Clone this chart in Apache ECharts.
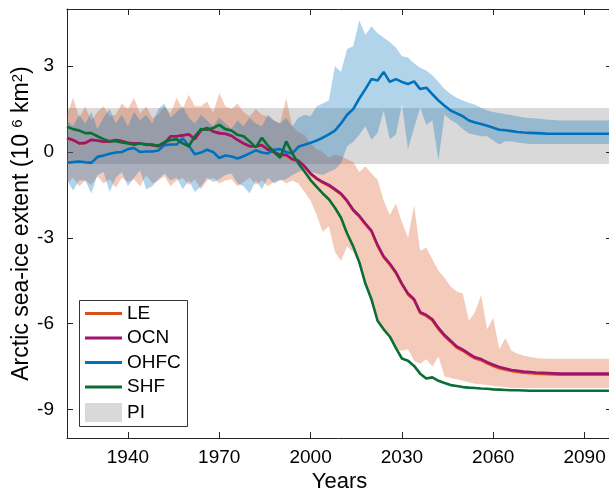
<!DOCTYPE html>
<html><head><meta charset="utf-8">
<script src="https://cdn.jsdelivr.net/npm/echarts@6/dist/echarts.min.js"></script>
<style>html,body{margin:0;padding:0;background:#fff}#c{width:609px;height:494px}</style>
</head><body><div id="c"></div>
<script>
const years = [1920,1922,1924,1926,1928,1930,1932,1934,1936,1938,
1940,1942,1944,1946,1948,1950,1952,1954,1956,1958,
1960,1962,1964,1966,1968,1970,1972,1974,1976,1978,
1980,1982,1984,1986,1988,1990,1992,1994,1996,1998,
2000,2002,2004,2006,2008,2010,2012,2014,2016,2018,
2020,2022,2024,2026,2028,2030,2032,2034,2036,2038,
2040,2042,2044,2046,2048,2050,2052,2054,2056,2058,
2060,2062,2064,2066,2068,2070,2072,2074,2076,2078,
2080,2082,2084,2086,2088,2090,2092,2094,2096,2098];

const leMean = [0.48,0.41,0.31,0.31,0.42,0.4,0.37,0.36,0.41,0.38,
0.32,0.3,0.29,0.27,0.24,0.2,0.3,0.54,0.55,0.58,
0.61,0.45,0.75,0.83,0.72,0.66,0.63,0.57,0.42,0.3,
0.2,0.19,0.23,0.08,0.0,-0.1,-0.11,-0.26,-0.31,-0.51,
-0.77,-0.94,-1.07,-1.18,-1.33,-1.48,-1.73,-2.05,-2.26,-2.53,
-2.78,-3.28,-3.68,-3.93,-4.23,-4.63,-4.98,-5.18,-5.63,-5.73,
-5.89,-6.19,-6.44,-6.64,-6.84,-6.95,-7.09,-7.22,-7.28,-7.39,
-7.48,-7.56,-7.61,-7.66,-7.69,-7.72,-7.73,-7.75,-7.76,-7.77,
-7.78,-7.79,-7.79,-7.79,-7.79,-7.79,-7.79,-7.79,-7.79,-7.79];

const ocn = [0.49,0.42,0.3,0.32,0.43,0.4,0.36,0.37,0.42,0.38,
0.32,0.3,0.3,0.27,0.24,0.2,0.3,0.55,0.55,0.58,
0.62,0.45,0.76,0.84,0.72,0.66,0.64,0.57,0.42,0.3,
0.2,0.2,0.24,0.08,0.0,-0.1,-0.1,-0.25,-0.3,-0.5,
-0.75,-0.92,-1.05,-1.15,-1.3,-1.45,-1.7,-2.02,-2.23,-2.5,
-2.75,-3.25,-3.65,-3.9,-4.2,-4.6,-4.95,-5.15,-5.6,-5.7,
-5.85,-6.15,-6.4,-6.6,-6.8,-6.91,-7.05,-7.18,-7.24,-7.35,
-7.44,-7.52,-7.57,-7.62,-7.65,-7.68,-7.69,-7.71,-7.72,-7.73,
-7.74,-7.75,-7.75,-7.75,-7.75,-7.75,-7.75,-7.75,-7.75,-7.75];

const ohfc = [-0.38,-0.35,-0.33,-0.36,-0.38,-0.17,-0.12,-0.06,-0.02,0.0,
0.1,0.14,0.0,0.02,0.02,0.05,0.24,0.26,0.26,0.48,
0.22,-0.08,-0.02,0.08,0.0,-0.21,-0.12,-0.16,-0.23,-0.15,
-0.05,0.06,-0.02,-0.05,0.08,0.1,0.0,-0.05,0.18,0.25,
0.32,0.4,0.5,0.62,0.75,1.0,1.3,1.5,1.87,2.2,
2.55,2.5,2.8,2.45,2.55,2.45,2.38,2.47,2.2,2.25,
2.02,1.8,1.62,1.45,1.35,1.25,1.1,1.03,0.98,0.92,
0.85,0.78,0.76,0.73,0.7,0.68,0.67,0.66,0.65,0.64,
0.64,0.64,0.64,0.64,0.64,0.64,0.64,0.64,0.64,0.64];

const shf = [0.88,0.8,0.75,0.66,0.66,0.55,0.45,0.38,0.38,0.33,
0.3,0.25,0.3,0.25,0.26,0.22,0.35,0.42,0.45,0.3,
0.2,0.55,0.8,0.78,0.84,0.95,0.8,0.75,0.6,0.55,
0.37,0.16,0.5,0.22,0.0,-0.2,0.37,-0.05,-0.4,-0.68,
-0.98,-1.22,-1.45,-1.65,-1.95,-2.3,-2.85,-3.3,-3.85,-4.6,
-5.15,-5.9,-6.2,-6.45,-6.85,-7.22,-7.3,-7.48,-7.75,-7.92,
-7.88,-8.0,-8.08,-8.15,-8.18,-8.22,-8.24,-8.25,-8.27,-8.28,
-8.3,-8.31,-8.32,-8.33,-8.33,-8.34,-8.35,-8.35,-8.35,-8.35,
-8.35,-8.35,-8.35,-8.35,-8.35,-8.35,-8.35,-8.35,-8.35,-8.35];

const leHi = [1.3,1.9,1.2,1.6,1.1,1.4,1.6,1.25,1.3,1.7,
1.5,1.9,1.35,1.6,1.2,1.3,1.6,1.35,1.9,1.5,
2.0,1.6,1.6,1.77,1.36,2.06,1.6,1.5,1.7,1.4,
1.24,1.5,1.3,1.24,1.1,1.0,1.89,0.9,0.7,0.6,
0.3,0.1,0.0,-0.2,-0.1,-0.15,-0.25,-0.35,-0.7,-0.5,
-0.75,-0.97,-1.7,-2.2,-1.8,-2.45,-3.0,-1.85,-3.45,-3.35,
-3.75,-4.15,-4.4,-4.7,-4.88,-4.95,-5.9,-5.6,-5.0,-6.2,
-5.8,-6.9,-6.5,-6.95,-7.05,-7.12,-7.16,-7.2,-7.22,-7.23,
-7.23,-7.23,-7.23,-7.23,-7.23,-7.23,-7.23,-7.23,-7.23,-7.23];

const leLo = [-1.1,-0.9,-1.2,-1.0,-1.15,-0.85,-1.1,-0.95,-1.25,-0.9,
-1.05,-0.95,-1.2,-0.8,-1.1,-1.0,-0.85,-1.2,-1.0,-0.9,
-1.15,-0.95,-1.3,-1.0,-0.9,-1.1,-1.0,-0.95,-1.2,-1.05,
-0.9,-1.15,-1.0,-1.2,-1.05,-0.95,-1.1,-1.0,-1.1,-1.4,
-1.7,-2.2,-2.8,-2.6,-3.5,-3.8,-3.3,-3.5,-3.95,-4.7,
-5.25,-5.95,-6.25,-6.5,-6.9,-6.95,-6.9,-7.3,-7.4,-7.25,
-7.5,-7.15,-7.85,-7.9,-7.95,-8.0,-8.05,-8.1,-8.12,-8.15,
-8.18,-8.2,-8.22,-8.25,-8.25,-8.25,-8.25,-8.25,-8.25,-8.25,
-8.25,-8.25,-8.25,-8.25,-8.25,-8.25,-8.25,-8.25,-8.25,-8.25];

const ohfcHi = [1.1,0.9,1.3,1.0,1.4,0.8,1.2,1.5,1.0,1.3,
0.9,1.4,1.1,1.3,1.0,1.5,1.7,1.2,1.4,1.6,
1.2,1.0,1.3,1.1,0.9,1.2,1.0,0.8,1.1,0.9,
1.2,1.0,0.9,1.3,1.1,1.0,1.2,0.9,1.2,1.3,
1.25,1.6,1.7,1.8,3.0,2.8,3.6,3.7,4.6,4.1,
4.4,4.15,4.0,3.85,3.65,3.35,3.3,3.1,2.95,2.85,
2.68,2.45,2.2,2.03,1.9,1.8,1.72,1.65,1.55,1.45,
1.4,1.36,1.32,1.29,1.25,1.21,1.19,1.17,1.15,1.13,
1.12,1.1,1.1,1.1,1.1,1.1,1.1,1.1,1.1,1.1];

const ohfcLo = [-1.0,-1.35,-1.0,-1.0,-1.45,-0.8,-0.7,-1.4,-0.9,-0.7,
-1.2,-0.9,-0.65,-1.3,-1.2,-0.95,-0.75,-1.0,-0.9,-1.3,
-1.0,-1.4,-1.2,-0.9,-1.05,-0.95,-0.8,-0.75,-1.1,-1.2,
-1.45,-1.0,-1.3,-0.9,-1.1,-1.0,-0.95,-0.8,-0.7,-0.6,
-0.7,-0.75,-0.8,-0.7,-0.6,-0.4,0.2,0.35,0.6,0.9,
0.43,0.66,1.45,0.45,0.6,1.65,0.1,0.85,1.55,0.95,
1.1,-0.3,1.3,1.12,1.0,0.8,0.65,0.6,0.55,0.55,
0.4,0.26,0.38,0.37,0.33,0.31,0.28,0.28,0.28,0.28,
0.28,0.28,0.28,0.28,0.28,0.28,0.28,0.28,0.28,0.28];

const piRange = [-0.42, 1.54];
const xTicks = [1940,1970,2000,2030,2060,2090];
const yTicks = [-9,-6,-3,0,3];

const FONT = 'Liberation Sans, Arial, sans-serif';
const AX = '#262626';

function pairs(arr){ return years.map((y,i)=>[y, arr[i]]); }

function bandSeries(hi, lo, color, z){
  return {type:'custom', coordinateSystem:'cartesian2d', xAxisIndex:0, yAxisIndex:0, z:z, silent:true,
    clip:true,
    data: years.map((y,i)=>[y, lo[i], hi[i]]),
    encode:{x:0, y:[1,2]},
    renderItem:function(params, api){
      if (params.dataIndex !== 0) return null;
      const pts = [];
      for (let i = 0; i < years.length; i++) pts.push(api.coord([years[i], hi[i]]));
      for (let i = years.length - 1; i >= 0; i--) pts.push(api.coord([years[i], lo[i]]));
      return {type:'polygon', shape:{points:pts}, style:{fill:color, stroke:null}};
    }};
}
function lineSeries(name, arr, color, z){
  return {name:name, type:'line', data:pairs(arr), symbol:'none', showSymbol:false,
    lineStyle:{color:color, width:2.6}, itemStyle:{color:color}, z:z, silent:true,
    xAxisIndex:0, yAxisIndex:0};
}

const xCommon = {type:'value', min:1920, max:2099, splitLine:{show:false},
  axisLine:{show:true, onZero:false, lineStyle:{color:AX, width:1}},
  axisTick:{show:true, inside:true, length:6, customValues:xTicks, lineStyle:{color:AX}}};
const yCommon = {type:'value', min:-10, max:5, splitLine:{show:false},
  axisLine:{show:true, onZero:false, lineStyle:{color:AX, width:1}},
  axisTick:{show:true, inside:true, length:6, customValues:yTicks, lineStyle:{color:AX}}};

const chart = echarts.init(document.getElementById('c'), null, {renderer:'canvas'});
chart.setOption({
  animation:false,
  backgroundColor:'#fff',
  textStyle:{fontFamily:FONT},
  grid:{left:67, top:9, right:-3, bottom:56, containLabel:false, outerBoundsMode:'none'},
  xAxis:[
    Object.assign({}, xCommon, {position:'bottom', name:'Years', nameLocation:'middle', nameGap:33,
      nameMoveOverlap:false,
      nameTextStyle:{fontSize:22, color:'#000', fontFamily:FONT},
      axisLabel:{show:true, customValues:xTicks, fontSize:19, color:'#000', margin:10, fontFamily:FONT,
        formatter:function(v){return String(v);}}}),
    Object.assign({}, xCommon, {position:'top', axisLabel:{show:false}})
  ],
  yAxis:[
    Object.assign({}, yCommon, {position:'left',
      name:'Arctic sea-ice extent (10 {sup|6} km{sup|2})', nameLocation:'middle', nameGap:34,
      nameMoveOverlap:false,
      nameTextStyle:{fontSize:23, color:'#000', fontFamily:FONT,
        rich:{sup:{fontSize:15, verticalAlign:'top', color:'#000', fontFamily:FONT}}},
      axisLabel:{show:true, customValues:yTicks, fontSize:19, color:'#000', margin:13, fontFamily:FONT}}),
    Object.assign({}, yCommon, {position:'right', axisLabel:{show:false}})
  ],
  legend:[
    {orient:'vertical', left:85, top:304, itemWidth:37, itemHeight:3, itemGap:5.5, padding:0,
     textStyle:{fontSize:19, color:'#000', fontFamily:FONT, lineHeight:19}, z:20,
     selectedMode:false,
     data:[{name:'LE', icon:'rect'},{name:'OCN', icon:'rect'},{name:'OHFC', icon:'rect'},{name:'SHF', icon:'rect'}]},
    {orient:'vertical', left:85, top:403, itemWidth:37, itemHeight:19, padding:0,
     textStyle:{fontSize:19, color:'#000', fontFamily:FONT, lineHeight:19}, z:20,
     selectedMode:false,
     data:[{name:'PI', icon:'rect', itemStyle:{color:'#d9d9d9'}}]}
  ],
  graphic:[{type:'rect', z:10, silent:true,
    shape:{x:79.5, y:300.5, width:108, height:126},
    style:{fill:'#fff', stroke:'#333', lineWidth:1}}],
  series:[
    bandSeries(leHi, leLo, 'rgba(217,83,25,0.3)', 1),
    bandSeries(ohfcHi, ohfcLo, 'rgba(0,114,189,0.3)', 2),
    {name:'PI', type:'line', data:[], z:3, silent:true, itemStyle:{color:'#d9d9d9'},
     markArea:{silent:true, itemStyle:{color:'rgba(0,0,0,0.15)'},
       data:[[{yAxis:piRange[0]},{yAxis:piRange[1]}]]}},
    lineSeries('LE', leMean, '#D95319', 5),
    lineSeries('OCN', ocn, '#A0146E', 6),
    lineSeries('OHFC', ohfc, '#0072BD', 7),
    lineSeries('SHF', shf, '#0A6E35', 8)
  ]
});
</script></body></html>
